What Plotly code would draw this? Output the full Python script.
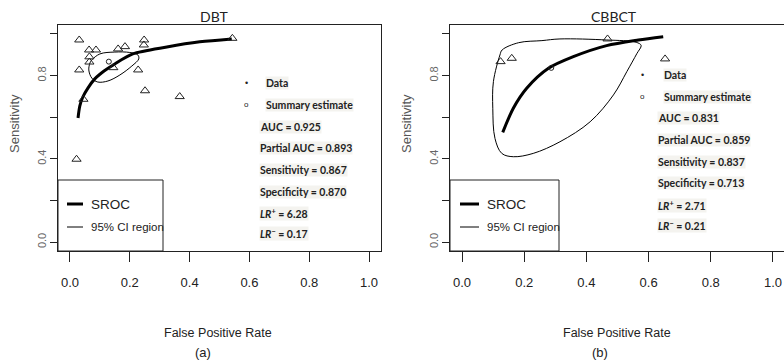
import plotly.graph_objects as go

W, H = 784, 363

# ---- DBT panel -------------------------------------------------------------
dbt_study_fpr = [0.031, 0.064, 0.087, 0.065, 0.065, 0.031, 0.161, 0.184, 0.248, 0.247,
                 0.145, 0.228, 0.251, 0.367, 0.543, 0.045, 0.022]
dbt_study_sens = [0.971, 0.923, 0.923, 0.890, 0.865, 0.827, 0.928, 0.939, 0.971, 0.947,
                  0.838, 0.827, 0.727, 0.699, 0.979, 0.686, 0.398]
dbt_sroc_fpr = [0.027, 0.033, 0.043, 0.060, 0.083, 0.114, 0.150, 0.210, 0.324, 0.434, 0.541]
dbt_sroc_sens = [0.596, 0.654, 0.697, 0.740, 0.784, 0.822, 0.856, 0.904, 0.937, 0.962, 0.976]
dbt_ci_fpr = [0.073, 0.100, 0.150, 0.200, 0.227, 0.230, 0.207, 0.167, 0.127, 0.093, 0.073,
              0.063, 0.067, 0.073]
dbt_ci_sens = [0.875, 0.904, 0.913, 0.911, 0.899, 0.880, 0.846, 0.803, 0.774, 0.769, 0.788,
               0.827, 0.861, 0.875]
dbt_auc, dbt_pauc, dbt_sens, dbt_spec, dbt_lrp, dbt_lrn = 0.925, 0.893, 0.867, 0.870, 6.28, 0.17

# ---- CBBCT panel -----------------------------------------------------------
cbbct_study_fpr = [0.124, 0.160, 0.468, 0.653]
cbbct_study_sens = [0.867, 0.883, 0.976, 0.880]
cbbct_sroc_fpr = [0.131, 0.165, 0.208, 0.278, 0.358, 0.465, 0.567, 0.647]
cbbct_sroc_sens = [0.527, 0.643, 0.739, 0.835, 0.891, 0.944, 0.971, 0.987]
cbbct_ci_fpr = [0.129, 0.182, 0.257, 0.315, 0.465, 0.560, 0.576, 0.562, 0.530, 0.487, 0.412,
                0.315, 0.229, 0.165, 0.128, 0.106, 0.099, 0.101, 0.122, 0.129]
cbbct_ci_sens = [0.923, 0.958, 0.968, 0.976, 0.971, 0.960, 0.945, 0.905, 0.819, 0.707, 0.578,
                 0.482, 0.426, 0.410, 0.426, 0.498, 0.643, 0.771, 0.899, 0.923]
cb_auc, cb_pauc, cb_sens, cb_spec, cb_lrp, cb_lrn = 0.831, 0.859, 0.837, 0.713, 2.71, 0.21

x_tick_vals = [0.0, 0.2, 0.4, 0.6, 0.8, 1.0]
x_tick_text = ["0.0", "0.2", "0.4", "0.6", "0.8", "1.0"]

SANS = "Liberation Sans, Arial, sans-serif"
CAL = "Lato, Liberation Sans, sans-serif"


def px(x):
    return x / W


def py(y):
    return 1 - y / H


fig = go.Figure()


def add_panel(xa, ya, s_fpr, s_sens, r_fpr, r_sens, c_fpr, c_sens, spec, sens):
    fig.add_trace(go.Scatter(x=c_fpr, y=c_sens, mode="lines",
                             line=dict(color="black", width=1, shape="spline", smoothing=1.0),
                             xaxis=xa, yaxis=ya, hoverinfo="skip"))
    fig.add_trace(go.Scatter(x=r_fpr, y=r_sens, mode="lines",
                             line=dict(color="black", width=3, shape="spline", smoothing=0.8),
                             xaxis=xa, yaxis=ya))
    fig.add_trace(go.Scatter(x=s_fpr, y=s_sens, mode="markers",
                             marker=dict(symbol="triangle-up-open", size=8, color="#222", line=dict(width=1)),
                             xaxis=xa, yaxis=ya))
    fig.add_trace(go.Scatter(x=[1 - spec], y=[sens], mode="markers",
                             marker=dict(symbol="circle-open", size=5, color="#222", line=dict(width=1)),
                             xaxis=xa, yaxis=ya))


add_panel("x", "y", dbt_study_fpr, dbt_study_sens, dbt_sroc_fpr, dbt_sroc_sens,
          dbt_ci_fpr, dbt_ci_sens, dbt_spec, dbt_sens)
add_panel("x2", "y2", cbbct_study_fpr, cbbct_study_sens, cbbct_sroc_fpr, cbbct_sroc_sens,
          cbbct_ci_fpr, cbbct_ci_sens, cb_spec, cb_sens)

y_dom = [py(251), py(25)]
xaxis_common = dict(tickmode="array", tickvals=x_tick_vals, ticktext=x_tick_text, ticks="outside",
                    ticklen=10, tickwidth=1, tickcolor="#222", showgrid=False, zeroline=False,
                    showline=True, linecolor="#222", linewidth=1, mirror=True,
                    tickfont=dict(family=SANS, size=13, color="#222"), ticklabelstandoff=9)
# labelled ticks every 0.4, unlabelled ticks in between
yaxis_common = dict(tickmode="linear", tick0=0, dtick=0.4, tickformat=".1f", ticks="outside",
                    ticklen=7, tickwidth=1, tickcolor="#222", showgrid=False, zeroline=False,
                    showline=True, linecolor="#222", linewidth=1, tickangle=-90,
                    tickfont=dict(family=SANS, size=11, color="#666"),
                    minor=dict(tick0=0, dtick=0.2, ticks="outside", ticklen=7, tickwidth=1,
                               tickcolor="#222", showgrid=False),
                    range=[-0.043, 1.043], domain=y_dom)

fig.update_layout(
    width=W, height=H, margin=dict(l=0, r=0, t=0, b=0),
    paper_bgcolor="white", plot_bgcolor="white", showlegend=False,
    xaxis=dict(domain=[px(58), px(381)], range=[-0.04, 1.04], anchor="y", **xaxis_common),
    yaxis=dict(anchor="x", mirror=True, **yaxis_common),
    xaxis2=dict(domain=[px(450), 1.0], range=[-0.0386, 1.0354], anchor="y2", **xaxis_common),
    yaxis2=dict(anchor="x2", mirror=False, **yaxis_common),
)

shapes = []
annotations = []


def txt(x, y, text, size=13, family=SANS, color="#222", xanchor="center", bold=False, angle=0, bg=None):
    annotations.append(dict(x=px(x), y=py(y), xref="paper", yref="paper",
                            text=f"<b>{text}</b>" if bold else text,
                            showarrow=False, xanchor=xanchor, yanchor="middle", textangle=angle,
                            font=dict(family=family, size=size, color=color),
                            bgcolor=bg, borderpad=0))


def panel_text(left, title, title_x, xlab_x, tag, tag_x, stat_x, dot_x, data_x, ys,
               auc, pauc, sens, spec, lrp, lrn, leg_right, leg_line):
    txt(title_x, 16, title, size=14, family=CAL, color="#222")
    txt(xlab_x, 333, "False Positive Rate", size=12.5, family=SANS)
    txt(tag_x, 352, tag, size=13, family=SANS)
    txt(left - 44, 124, "Sensitivity", size=13, family=SANS, color="#555", angle=-90)
    bg = "#f4f3ef"
    sz = 10.5
    txt(dot_x, ys[0], "•", size=9, family=SANS, xanchor="center")
    txt(data_x, ys[0], "Data", size=sz, family=CAL, xanchor="left", bold=True, bg=bg)
    txt(dot_x, ys[1], "o", size=8, family=SANS, xanchor="center")
    txt(data_x, ys[1], "Summary estimate", size=sz, family=CAL, xanchor="left", bold=True, bg=bg)
    txt(stat_x, ys[2], f"AUC = {auc:.3f}", size=sz, family=CAL, xanchor="left", bold=True, bg=bg)
    txt(stat_x, ys[3], f"Partial AUC = {pauc:.3f}", size=sz, family=CAL, xanchor="left", bold=True, bg=bg)
    txt(stat_x, ys[4], f"Sensitivity = {sens:.3f}", size=sz, family=CAL, xanchor="left", bold=True, bg=bg)
    txt(stat_x, ys[5], f"Specificity = {spec:.3f}", size=sz, family=CAL, xanchor="left", bold=True, bg=bg)
    txt(stat_x, ys[6], f"<i>LR</i><sup>+</sup> = {lrp:.2f}", size=sz, family=CAL, xanchor="left", bold=True, bg=bg)
    txt(stat_x, ys[7], f"<i>LR</i><sup>−</sup> = {lrn:.2f}", size=sz, family=CAL, xanchor="left", bold=True, bg=bg)
    # legend box
    shapes.append(dict(type="rect", xref="paper", yref="paper", x0=px(left), x1=px(leg_right),
                       y0=py(251), y1=py(180), line=dict(color="#222", width=1), fillcolor="white"))
    shapes.append(dict(type="line", xref="paper", yref="paper", x0=px(leg_line[0]), x1=px(leg_line[1]),
                       y0=py(204), y1=py(204), line=dict(color="black", width=3)))
    shapes.append(dict(type="line", xref="paper", yref="paper", x0=px(leg_line[0]), x1=px(leg_line[1]),
                       y0=py(227), y1=py(227), line=dict(color="black", width=1)))
    txt(leg_line[1] + 7, 204, "SROC", size=13.5, family=SANS, xanchor="left")
    txt(leg_line[1] + 7, 227, "95% CI region", size=11.5, family=SANS, xanchor="left")


panel_text(58, "DBT", 214, 218, "(a)", 203, 259, 247, 265, [83, 105, 127, 148, 170, 192, 213, 233],
           dbt_auc, dbt_pauc, dbt_sens, dbt_spec, dbt_lrp, dbt_lrn, 163, (67, 83))
panel_text(450, "CBBCT", 614, 617, "(b)", 600, 657, 642, 663, [75, 97, 118, 140, 162, 183, 205, 225],
           cb_auc, cb_pauc, cb_sens, cb_spec, cb_lrp, cb_lrn, 559, (460, 479))

fig.update_layout(shapes=shapes, annotations=annotations)
fig.write_html("out.html")
